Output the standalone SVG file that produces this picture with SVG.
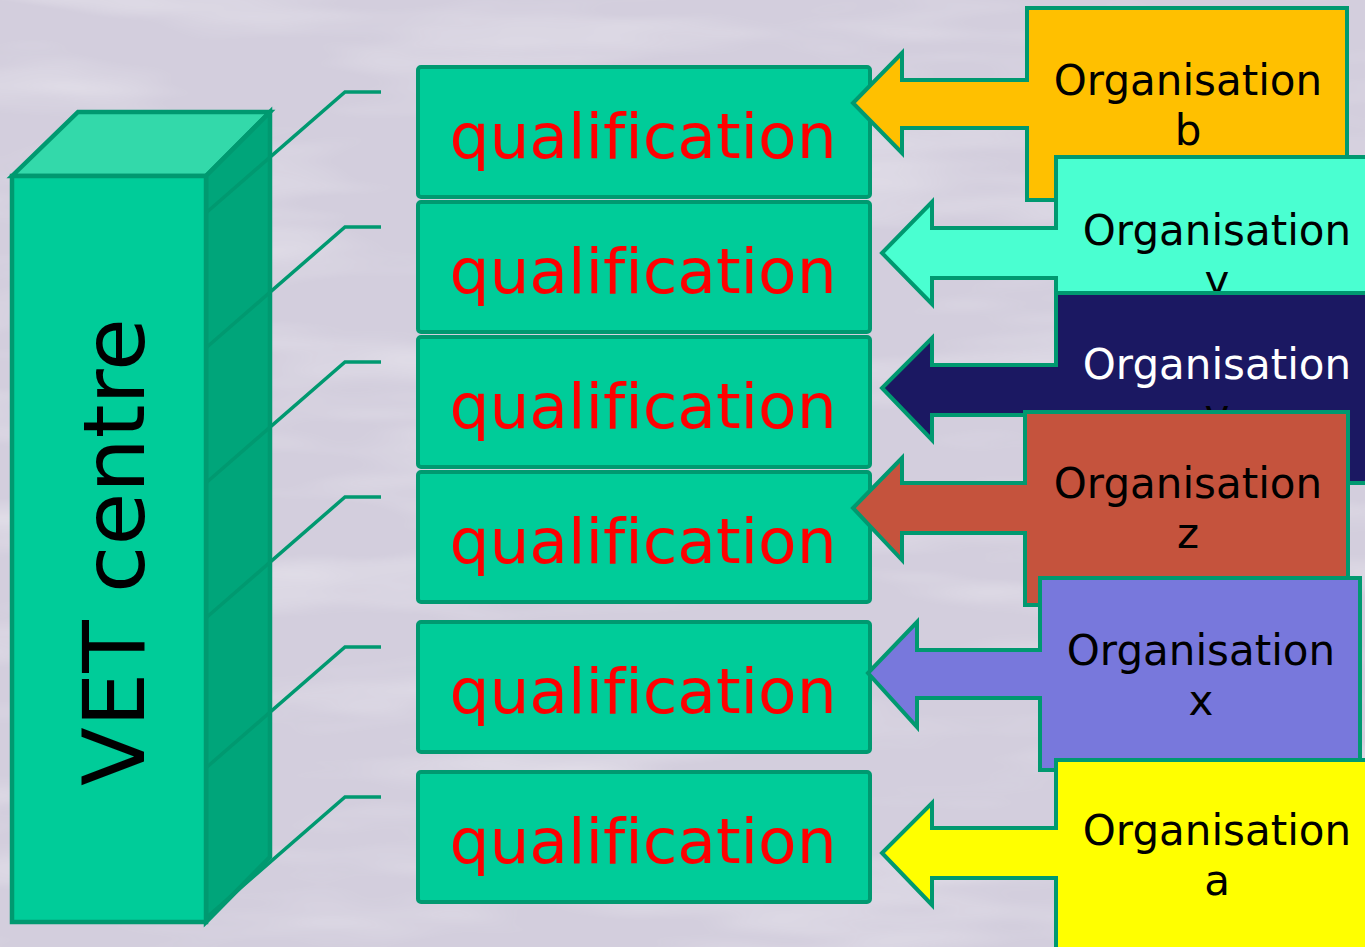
<svg xmlns="http://www.w3.org/2000/svg" width="1365" height="947" viewBox="0 0 1365 947">
<defs>
<filter id="marble" x="0" y="0" width="100%" height="100%">
<feTurbulence type="fractalNoise" baseFrequency="0.003 0.018" numOctaves="3" seed="7" result="n"/>
<feColorMatrix in="n" type="matrix" values="0 0 0 0 1  0 0 0 0 1  0 0 0 0 1  0 0 0 1.6 -0.75"/>
</filter>
<style>
text{font-variant-ligatures:none;font-feature-settings:"liga" 0,"clig" 0}
.line{fill:none;stroke:#009970;stroke-width:3.5;stroke-linejoin:miter}
.qbox{fill:#00CC99;stroke:#009970;stroke-width:4}
.qtxt{font-family:"DejaVu Sans",Verdana,sans-serif;font-size:63px;fill:#FF0000;text-anchor:middle}
.org{stroke:#009970;stroke-width:4;stroke-linejoin:miter}
.otxt{font-family:"DejaVu Sans",Verdana,sans-serif;font-size:42px;fill:#000000;text-anchor:middle}
.vet{stroke:#009970;stroke-width:4.5;stroke-linejoin:miter}
</style>
</defs>
<rect x="0" y="0" width="1365" height="947" fill="#D3CEDD"/>
<rect x="0" y="0" width="1365" height="947" filter="url(#marble)" opacity="0.5"/>

<g id="vet-centre">
<path class="vet" d="M12,176 L78,112 H270 L206,176 Z" fill="#33D9AA"/>
<path class="vet" d="M206,176 L270,112 V857 L206,922 Z" fill="#00A57A"/>
<rect class="vet" x="12" y="176" width="194" height="746" fill="#00CC99"/>
<text transform="translate(144,552) rotate(-90)" font-family="DejaVu Sans, Verdana, sans-serif" font-size="86" fill="#000000" text-anchor="middle">VET centre</text>
</g>

<g id="connectors">
<path class="line" d="M207,212 L345,92 H381"/>
<path class="line" d="M207,347 L345,227 H381"/>
<path class="line" d="M207,482 L345,362 H381"/>
<path class="line" d="M207,617 L345,497 H381"/>
<path class="line" d="M207,767 L345,647 H381"/>
<path class="line" d="M207,917 L345,797 H381"/>
</g>

<g id="qualification-1"><rect class="qbox" x="418" y="67" width="452" height="130" rx="3"/><text class="qtxt" x="643" y="158">qualification</text></g>
<g id="qualification-2"><rect class="qbox" x="418" y="202" width="452" height="130" rx="3"/><text class="qtxt" x="643" y="293">qualification</text></g>
<g id="qualification-3"><rect class="qbox" x="418" y="337" width="452" height="130" rx="3"/><text class="qtxt" x="643" y="428">qualification</text></g>
<g id="qualification-4"><rect class="qbox" x="418" y="472" width="452" height="130" rx="3"/><text class="qtxt" x="643" y="563">qualification</text></g>
<g id="qualification-5"><rect class="qbox" x="418" y="622" width="452" height="130" rx="3"/><text class="qtxt" x="643" y="713">qualification</text></g>
<g id="qualification-6"><rect class="qbox" x="418" y="772" width="452" height="130" rx="3"/><text class="qtxt" x="643" y="863">qualification</text></g>

<g id="organisation-b">
<path class="org" fill="#FFC000" d="M1027,8 H1347 V200 H1027 V128 H902 V153 L853,103 L902,53 V80 H1027 Z"/>
<text class="otxt" x="1188" y="95">Organisation</text>
<text class="otxt" x="1188" y="145">b</text>
</g>
<g id="organisation-y">
<path class="org" fill="#4AFFD1" d="M1056,157 H1372 V349 H1056 V278 H932 V304 L882,253 L932,202 V228 H1056 Z"/>
<text class="otxt" x="1217" y="245">Organisation</text>
<text class="otxt" x="1217" y="295">y</text>
</g>
<g id="organisation-v">
<path class="org" fill="#1B1862" d="M1056,293 H1372 V483 H1056 V415 H932 V440 L882,388 L932,338 V365 H1056 Z"/>
<text class="otxt" x="1217" y="379" style="fill:#FFFFFF">Organisation</text>
<text class="otxt" x="1217" y="429">v</text>
</g>
<g id="organisation-z">
<path class="org" fill="#C5533D" d="M1025,412 H1348 V605 H1025 V533 H902 V560 L853,508 L902,458 V483 H1025 Z"/>
<text class="otxt" x="1188" y="498">Organisation</text>
<text class="otxt" x="1188" y="548">z</text>
</g>
<g id="organisation-x">
<path class="org" fill="#7878DC" d="M1040,578 H1360 V770 H1040 V698 H917 V727 L868,673 L917,622 V650 H1040 Z"/>
<text class="otxt" x="1201" y="665">Organisation</text>
<text class="otxt" x="1201" y="715">x</text>
</g>
<g id="organisation-a">
<path class="org" fill="#FFFF00" d="M1056,760 H1372 V952 H1056 V878 H932 V905 L882,853 L932,803 V828 H1056 Z"/>
<text class="otxt" x="1217" y="845">Organisation</text>
<text class="otxt" x="1217" y="895">a</text>
</g>
</svg>
